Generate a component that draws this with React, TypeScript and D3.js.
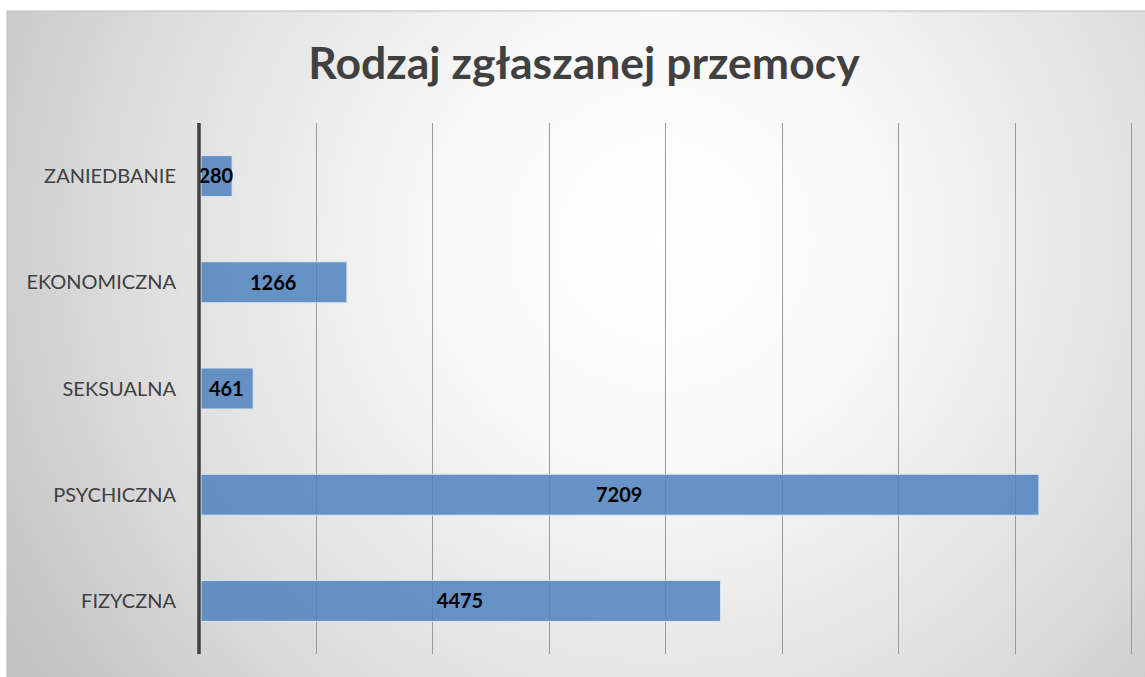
import React from "react";
import * as d3 from "d3";

const categories = ["ZANIEDBANIE", "EKONOMICZNA", "SEKSUALNA", "PSYCHICZNA", "FIZYCZNA"];
const values = [280, 1266, 461, 7209, 4475];
const gridTicks = [1000, 2000, 3000, 4000, 5000, 6000, 7000, 8000];
const title = "Rodzaj zgłaszanej przemocy";

const W = 1145;
const H = 677;

export default function App() {
  const x = d3.scaleLinear().domain([0, 8000]).range([199.5, 1131]);
  const y = d3
    .scaleBand<string>()
    .domain(categories)
    .range([123, 654])
    .paddingInner(0.614)
    .paddingOuter(0.307);
  const font = "Lato, 'Open Sans', sans-serif";

  return (
    <svg
      width={W}
      height={H}
      style={{ position: "absolute", left: 0, top: 0, display: "block" }}
    >
      <defs>
        <radialGradient
          id="bg"
          gradientUnits="userSpaceOnUse"
          cx={660}
          cy={240}
          r={760}
          fx={660}
          fy={240}
        >
          <stop offset="0" stopColor="#ffffff" />
          <stop offset="0.3" stopColor="#f8f8f8" />
          <stop offset="0.7" stopColor="#dddddd" />
          <stop offset="1" stopColor="#c2c2c2" />
        </radialGradient>
      </defs>
      <rect x={0} y={0} width={W} height={H} fill="#ffffff" />
      <rect x={7} y={11} width={W} height={H} fill="url(#bg)" stroke="#bdbdbd" strokeWidth={1} />
      <text
        x={584}
        y={79}
        textAnchor="middle"
        fontFamily={font}
        fontWeight={700}
        fontSize={44.5}
        fill="#404040"
      >
        {title}
      </text>
      {gridTicks.map((t) => (
        <line
          key={t}
          x1={Math.round(x(t)) + 0.5}
          x2={Math.round(x(t)) + 0.5}
          y1={123}
          y2={654}
          stroke="#9a9a9a"
          strokeWidth={1}
        />
      ))}
      {categories.map((c, i) => (
        <g key={c}>
          <rect
            x={x(0) + 1.5}
            y={y(c)}
            width={x(values[i]) - x(0) - 1.5}
            height={y.bandwidth()}
            fill="#4f81bd"
            fillOpacity={0.85}
            stroke="#dce6f2"
            strokeWidth={1}
          />
          <text
            x={176}
            y={(y(c) as number) + y.bandwidth() / 2}
            dy="0.35em"
            textAnchor="end"
            fontFamily={font}
            fontSize={20}
            fill="#404040"
          >
            {c}
          </text>
          <text
            x={(x(0) + x(values[i])) / 2}
            y={(y(c) as number) + y.bandwidth() / 2}
            dy="0.36em"
            textAnchor="middle"
            fontFamily={font}
            fontWeight={700}
            fontSize={20}
            fill="#000000"
          >
            {values[i]}
          </text>
        </g>
      ))}
      <line x1={199} x2={199} y1={123} y2={654} stroke="#404040" strokeWidth={3.5} />
    </svg>
  );
}
